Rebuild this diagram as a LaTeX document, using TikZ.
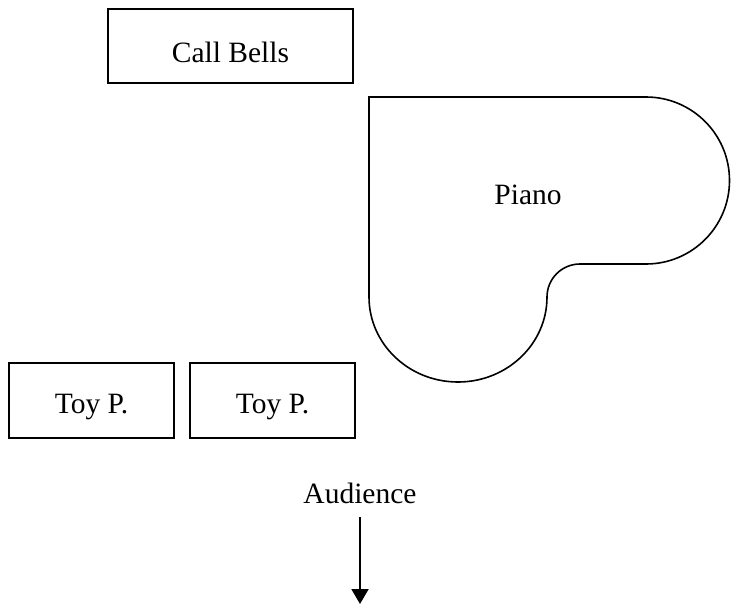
\documentclass[tikz,border=0pt]{standalone}
\usepackage{fontspec}
\setmainfont{Liberation Serif}
\usetikzlibrary{arrows.meta}
\begin{document}
\begin{tikzpicture}[x=1pt,y=-1pt,
  every node/.style={font=\fontsize{29.5}{35}\selectfont},
  instbox/.style={draw,line width=1.8pt,inner sep=0pt,text depth=0pt},
  outline/.style={line width=1.6pt},
  flow/.style={line width=1.9pt,-{Triangle[width=17pt,length=15pt]}}]
\useasboundingbox (0,0) rectangle (731,605);

% instrument boxes
\node[instbox,minimum width=245pt,minimum height=74pt,text height=32pt] (bells) at (230.5,46) {Call Bells};
\node[instbox,minimum width=165pt,minimum height=75pt,text height=25pt] (toyA) at (91.5,400.5) {Toy P.};
\node[instbox,minimum width=165pt,minimum height=75pt,text height=25pt] (toyB) at (272.5,400.5) {Toy P.};

% grand piano outline
\draw[outline] (369,97) -- (646,97)
  arc[start angle=-90,end angle=90,radius=83.5]
  -- (580,264)
  arc[start angle=-90,end angle=-180,radius=33]
  arc[start angle=0,end angle=180,x radius=89,y radius=85]
  -- cycle;
\node (piano) at (528,195) {Piano};

% audience direction
\node[anchor=base] (audience) at (360,503) {Audience};
\coordinate (front) at (360,604);
\draw[flow] ([yshift=-10pt]audience.south) -- (front);
\end{tikzpicture}
\end{document}
